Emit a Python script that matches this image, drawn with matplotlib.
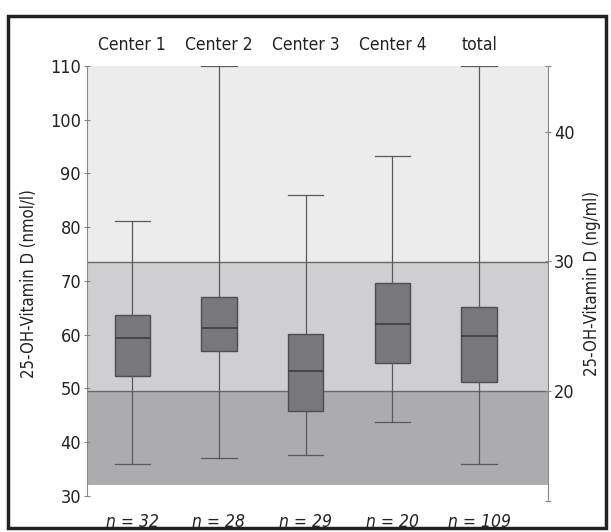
import numpy as np
import matplotlib.pyplot as plt
from matplotlib.patches import Rectangle
from matplotlib.transforms import blended_transform_factory
from matplotlib import font_manager

# condensed face if one is around, like the narrow sans in the figure
names = set(f.name for f in font_manager.fontManager.ttflist)
if "Liberation Sans Narrow" in names:
    plt.rcParams['font.family'] = ['Liberation Sans Narrow', 'DejaVu Sans']
else:
    plt.rcParams['font.family'] = ['DejaVu Sans']
    plt.rcParams['font.stretch'] = 'condensed'

# box statistics (nmol/l)
centers = ["Center 1", "Center 2", "Center 3", "Center 4", "total"]
n_labels = ["n = 32", "n = 28", "n = 29", "n = 20", "n = 109"]
whislo = [36.0, 37.0, 37.6, 43.8, 36.0]
q1 = [52.4, 56.9, 45.8, 54.7, 51.2]
med = [59.3, 61.2, 53.2, 62.0, 59.8]
q3 = [63.6, 67.0, 60.1, 69.7, 65.2]
whishi = [81.2, 110.0, 86.0, 93.3, 110.0]

# ng/ml cut-offs shown as shaded bands, and the nmol/l <-> ng/ml mapping of the right axis
band_edges = [32.0, 49.5, 73.5, 110.0]
band_colors = ["#acacaf", "#cfcfd1", "#ececec"]
ng_per_nmol = 1 / 2.415
ng_offset = 1.18

fig = plt.figure(figsize=(6.11, 5.32), dpi=100)
ax = fig.add_axes([87.3 / 611, 1 - 500.7 / 532, (548 - 87.3) / 611, (500.7 - 66) / 532])

xpos = np.arange(1, len(centers) + 1)
ax.set_xlim(0.481, 5.795)
ax.set_ylim(29.1, 110)

for lo, hi, c in zip(band_edges[:-1], band_edges[1:], band_colors):
    ax.axhspan(lo, hi, color=c, lw=0, zorder=0)
for yb in band_edges[1:-1]:
    ax.axhline(yb, color="#6a6a6a", lw=1.0, zorder=1)

stats = []
for i in range(len(centers)):
    stats.append({"whislo": whislo[i], "q1": q1[i], "med": med[i], "q3": q3[i],
                  "whishi": whishi[i], "fliers": []})

ax.bxp(stats, positions=xpos, widths=0.41, patch_artist=True, showfliers=False,
       boxprops=dict(facecolor="#78787b", edgecolor="#4e4e50", lw=1.0),
       medianprops=dict(color="#3e3e40", lw=1.2),
       whiskerprops=dict(color="#5a5a5a", lw=0.9),
       capprops=dict(color="#5a5a5a", lw=0.9),
       capwidths=0.41, zorder=3)

ax.set_xticks([])
ax.set_yticks(np.arange(30, 111, 10))
ax.tick_params(axis="y", direction="inout", length=5, width=0.8, colors="#888888",
               labelcolor="#222222", labelsize=13, pad=2)
for side in ["top", "bottom"]:
    ax.spines[side].set_visible(False)
ax.spines["left"].set_bounds(30, 110)
ax.spines["left"].set_color("#888888")
ax.spines["right"].set_visible(False)
ax.set_ylabel("25-OH-Vitamin D (nmol/l)", fontsize=12, color="#222222", labelpad=9)

trans = blended_transform_factory(ax.transData, ax.transAxes)
for x, name, nl in zip(xpos, centers, n_labels):
    ax.text(x, 1.0 + 21 / 434.7, name, transform=trans, ha="center", va="center",
            fontsize=12.5, color="#222222")
    ax.text(x, -21 / 434.7, nl, transform=trans, ha="center", va="center",
            fontsize=12.5, color="#222222", style="italic")

# right axis in ng/ml
ax2 = ax.twinx()
lo_ng = (29.1 - ng_offset) * ng_per_nmol
hi_ng = (110 - ng_offset) * ng_per_nmol
ax2.set_ylim(lo_ng, hi_ng)
ax2.set_yticks([20, 30, 40])
ax2.set_yticks([lo_ng, hi_ng], minor=True)
ax2.tick_params(axis="y", which="major", direction="inout", length=5, width=0.8,
                colors="#888888", labelcolor="#222222", labelsize=13, pad=2)
ax2.tick_params(axis="y", which="minor", direction="inout", length=5, width=0.8,
                colors="#888888")
for side in ["top", "bottom", "left"]:
    ax2.spines[side].set_visible(False)
ax2.spines["right"].set_color("#888888")
ax2.set_ylabel("25-OH-Vitamin D (ng/ml)", fontsize=12, color="#222222", labelpad=6)

# outer frame
fig.patches.append(Rectangle((8 / 611, 1 - 528 / 532), 598 / 611, 512 / 532,
                             transform=fig.transFigure, fill=False,
                             edgecolor="#222222", lw=2.5))

fig.savefig("out.png", dpi=100)
